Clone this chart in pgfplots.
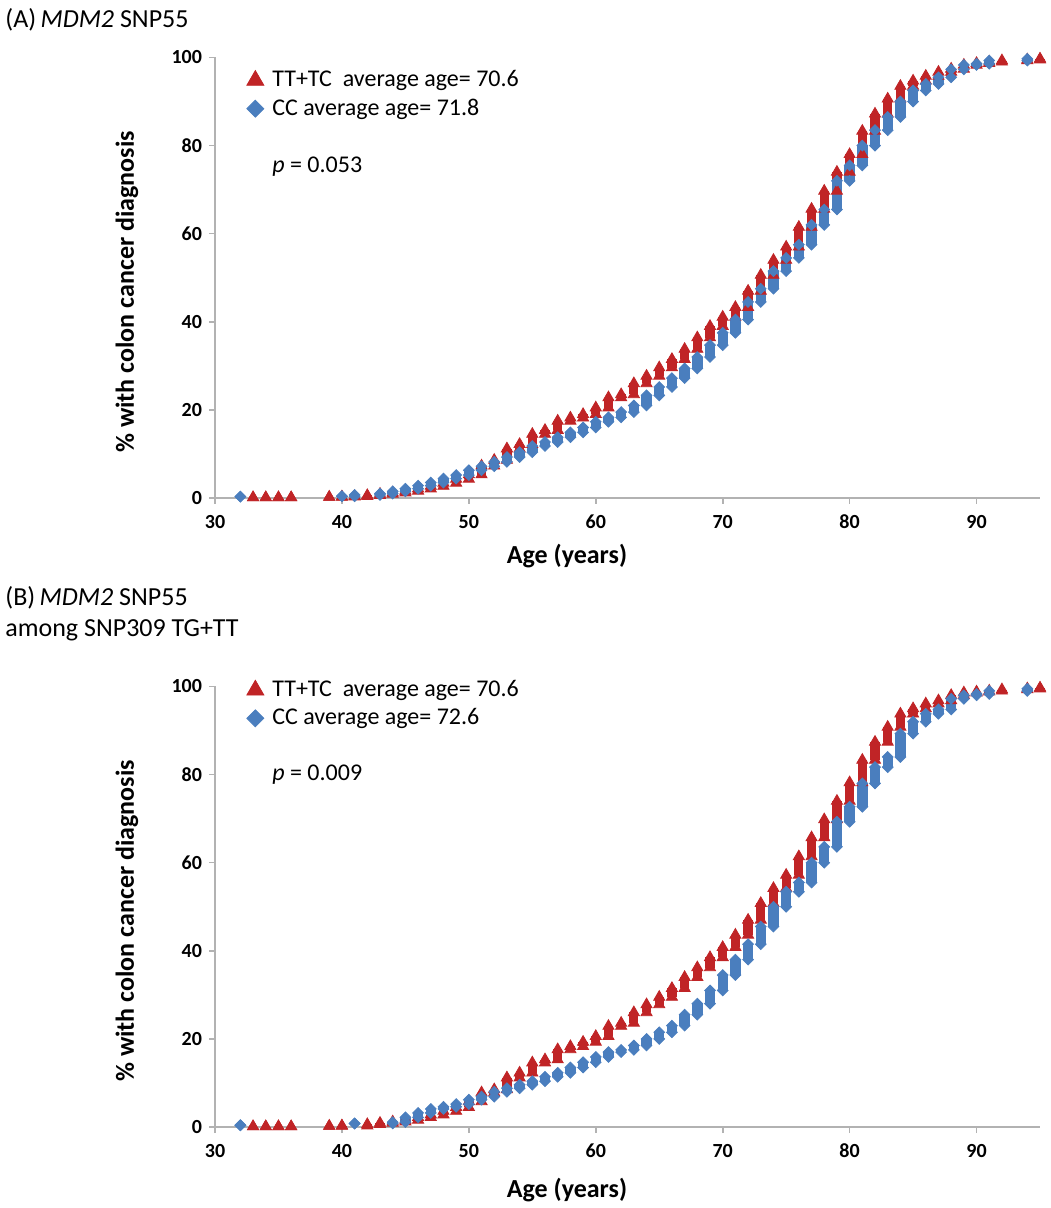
\documentclass[border=0pt]{standalone}
\usepackage{fontspec}
\setmainfont{Carlito}
\usepackage{pgfplots}
\usepackage{pgfplotstable}
\pgfplotsset{compat=1.18}

\definecolor{ttred}{RGB}{192,36,38}
\definecolor{ccblue}{RGB}{74,126,190}
\definecolor{axgray}{RGB}{178,178,178}

% cumulative % per age: each column runs from lo to hi
\pgfplotstableread{
age lo hi
33 0.1 0.1
34 0.1 0.1
35 0.1 0.1
36 0.1 0.1
39 0.2 0.2
40 0.2 0.3
41 0.3 0.4
42 0.4 0.6
43 0.6 0.9
44 0.9 1.2
45 1.2 1.6
46 1.6 2.1
47 2.1 2.7
48 2.7 3.4
49 3.4 4.3
50 4.3 5.3
51 5.3 7.3
52 7.3 8.6
53 8.6 11.2
54 11.2 12.2
55 12.2 14.5
56 14.5 15.4
57 15.4 17.5
58 17.5 18.2
59 18.2 19.0
60 19.0 20.5
61 20.5 22.8
62 22.8 23.5
63 23.5 26.0
64 26.0 27.7
65 27.7 29.6
66 29.6 31.5
67 31.5 33.8
68 33.8 36.4
69 36.4 39.0
70 39.0 41.1
71 41.1 43.3
72 43.3 47.0
73 47.0 50.6
74 50.6 54.0
75 54.0 57.0
76 57.0 61.5
77 61.5 65.6
78 65.6 69.7
79 69.7 74.0
80 74.0 78.0
81 78.0 83.3
82 83.3 87.2
83 87.2 90.6
84 90.6 93.5
85 93.5 94.7
86 94.7 95.8
87 95.8 96.7
88 96.7 97.4
89 97.4 98.3
90 98.3 98.7
91 98.7 99.0
92 99.0 99.3
94 99.3 99.5
95 99.5 99.7
}\redA

\pgfplotstableread{
age lo hi
32 0.3 0.3
40 0.4 0.4
41 0.4 0.7
43 0.7 1.0
44 1.0 1.5
45 1.5 2.1
46 2.1 2.8
47 2.8 3.5
48 3.5 4.4
49 4.4 5.2
50 5.2 6.3
51 6.3 7.2
52 7.2 8.2
53 8.2 9.3
54 9.3 10.4
55 10.4 11.8
56 11.8 12.7
57 12.7 13.8
58 13.8 14.9
59 14.9 16.0
60 16.0 17.3
61 17.3 18.3
62 18.3 19.5
63 19.5 21.0
64 21.0 23.3
65 23.3 25.2
66 25.2 27.2
67 27.2 29.4
68 29.4 32.0
69 32.0 34.7
70 34.7 37.5
71 37.5 40.5
72 40.5 44.5
73 44.5 47.5
74 47.5 51.5
75 51.5 54.5
76 54.5 57.5
77 57.5 62.0
78 62.0 65.5
79 65.5 72.0
80 72.0 75.5
81 75.5 80.0
82 80.0 83.5
83 83.5 86.5
84 86.5 90.0
85 90.0 92.5
86 92.5 94.0
87 94.0 95.5
88 95.5 97.3
89 97.3 98.3
90 98.3 98.6
91 98.6 99.3
94 99.3 99.7
}\blueA

\pgfplotstableread{
age lo hi
33 0.1 0.1
34 0.1 0.1
35 0.1 0.1
36 0.1 0.1
39 0.2 0.2
40 0.2 0.3
42 0.3 0.6
43 0.6 0.9
44 0.9 1.2
45 1.2 1.6
46 1.6 2.2
47 2.2 2.8
48 2.8 3.6
49 3.6 4.5
50 4.5 5.8
51 5.8 7.8
52 7.8 8.5
53 8.5 11.2
54 11.2 12.3
55 12.3 14.6
56 14.6 15.3
57 15.3 17.6
58 17.6 18.3
59 18.3 19.3
60 19.3 20.6
61 20.6 22.9
62 22.9 23.6
63 23.6 26.0
64 26.0 27.8
65 27.8 29.5
66 29.5 31.5
67 31.5 34.0
68 34.0 36.2
69 36.2 38.5
70 38.5 40.8
71 40.8 43.6
72 43.6 47.0
73 47.0 50.8
74 50.8 54.2
75 54.2 57.2
76 57.2 61.4
77 61.4 65.7
78 65.7 69.8
79 69.8 74.0
80 74.0 78.2
81 78.2 83.3
82 83.3 87.4
83 87.4 90.8
84 90.8 93.8
85 93.8 95.0
86 95.0 96.1
87 96.1 96.8
88 96.8 98.0
89 98.0 98.6
90 98.6 98.8
91 98.8 99.0
92 99.0 99.3
94 99.3 99.5
95 99.5 99.7
}\redB

\pgfplotstableread{
age lo hi
32 0.4 0.4
41 0.8 0.8
44 0.8 1.1
45 1.1 2.2
46 2.2 3.2
47 3.2 4.1
48 4.1 4.6
49 4.6 5.2
50 5.2 6.2
51 6.2 6.9
52 6.9 8.0
53 8.0 8.8
54 8.8 9.6
55 9.6 10.4
56 10.4 11.4
57 11.4 12.3
58 12.3 13.5
59 13.5 14.7
60 14.7 15.9
61 15.9 17.0
62 17.0 17.5
63 17.5 18.5
64 18.5 20.0
65 20.0 21.5
66 21.5 23.0
67 23.0 25.5
68 25.5 28.0
69 28.0 31.0
70 31.0 34.5
71 34.5 38.0
72 38.0 41.5
73 41.5 45.5
74 45.5 50.0
75 50.0 53.4
76 53.4 55.5
77 55.5 60.0
78 60.0 63.6
79 63.6 69.3
80 69.3 72.7
81 72.7 78.0
82 78.0 81.7
83 81.7 84.0
84 84.0 89.3
85 89.3 92.0
86 92.0 93.8
87 93.8 94.8
88 94.8 97.2
89 97.2 98.0
90 98.0 98.3
91 98.3 99.0
94 99.0 99.5
}\blueB

\pgfplotsset{
  cdf/.style={
    scale only axis, width=412.5pt, height=220.25pt,
    xmin=30, xmax=95, ymin=0, ymax=100,
    xtick={30,40,...,90}, ytick={0,20,...,100},
    axis lines*=left,
    axis line style={axgray, line width=1pt},
    tick style={axgray, line width=0.8pt},
    tick align=outside, major tick length=3pt,
    ticklabel style={font=\bfseries\fontsize{10}{12}\selectfont},
    xticklabel style={yshift=-2pt},
    /pgf/number format/assume math mode=true,
    clip=false,
    legend image code/.code={%
      \path[draw=none, fill=none] (-4.3pt,0pt) -- (8.5pt,0pt);
      \draw[##1] plot coordinates {(0pt,0pt)};},
    legend cell align=left,
    legend style={draw=none, fill=none, inner sep=0pt, row sep=4.5pt,
      font=\fontsize{12}{14}\selectfont,
      nodes={inner sep=0pt}},
  },
  colbars/.style 2 args={
    error bars/y dir=minus, error bars/y explicit,
    error bars/error mark=none,
    error bars/error bar style={line width=#1, #2}},
  redcol/.style={only marks, mark=triangle*, mark size=3.2pt, color=ttred,
    colbars={4.6pt}{ttred}},
  redlo/.style={only marks, mark=triangle*, mark size=3.2pt, color=ttred},
  bluecol/.style={only marks, mark=square*, mark size=1.9pt, color=ccblue,
    mark options={rotate=45}, colbars={5.2pt}{ccblue}},
  bluelo/.style={only marks, mark=square*, mark size=1.9pt, color=ccblue,
    mark options={rotate=45}},
}

\begin{document}
\begin{tikzpicture}
\useasboundingbox (0,0) rectangle (525pt,604pt);

% ---- panel A ----
\begin{axis}[cdf, at={(107.5pt,355pt)}, anchor=south west,
  legend style={at={(0.038,0.916)}, anchor=west}]
  \addplot[redcol, forget plot] table[x=age, y=hi, y error expr=\thisrow{hi}-\thisrow{lo}] {\redA};
  \addplot[redlo, forget plot] table[x=age, y=lo] {\redA};
  \addplot[bluecol, forget plot] table[x=age, y=hi, y error expr=\thisrow{hi}-\thisrow{lo}] {\blueA};
  \addplot[bluelo, forget plot] table[x=age, y=lo] {\blueA};
  \addlegendimage{only marks, mark=triangle*, mark size=4.9pt, ttred}
  \addlegendentry{TT+TC\ \ average age= 70.6}
  \addlegendimage{only marks, mark=square*, mark size=3pt, ccblue, mark options={rotate=45}}
  \addlegendentry{CC average age= 71.8}
  \node[anchor=west, inner sep=0pt, font=\fontsize{12}{14}\selectfont]
    at (rel axis cs:0.069,0.752) {\textit{p} = 0.053};
\end{axis}

% ---- panel B ----
\begin{axis}[cdf, at={(107.5pt,40.5pt)}, anchor=south west,
  legend style={at={(0.038,0.96)}, anchor=west}]
  \addplot[redcol, forget plot] table[x=age, y=hi, y error expr=\thisrow{hi}-\thisrow{lo}] {\redB};
  \addplot[redlo, forget plot] table[x=age, y=lo] {\redB};
  \addplot[bluecol, forget plot] table[x=age, y=hi, y error expr=\thisrow{hi}-\thisrow{lo}] {\blueB};
  \addplot[bluelo, forget plot] table[x=age, y=lo] {\blueB};
  \addlegendimage{only marks, mark=triangle*, mark size=4.9pt, ttred}
  \addlegendentry{TT+TC\ \ average age= 70.6}
  \addlegendimage{only marks, mark=square*, mark size=3pt, ccblue, mark options={rotate=45}}
  \addlegendentry{CC average age= 72.6}
  \node[anchor=west, inner sep=0pt, font=\fontsize{12}{14}\selectfont]
    at (rel axis cs:0.069,0.80) {\textit{p} = 0.009};
\end{axis}

% titles and axis titles
\node[anchor=west, inner sep=0pt, font=\fontsize{13}{15}\selectfont] at (2.5pt,594pt) {(A)\,\textit{MDM2} SNP55};
\node[anchor=west, inner sep=0pt, font=\fontsize{13}{15}\selectfont] at (2.5pt,305pt) {(B)\,\textit{MDM2} SNP55};
\node[anchor=west, inner sep=0pt, font=\fontsize{13}{15}\selectfont] at (2.5pt,289pt) {among SNP309 TG+TT};

\node[font=\bfseries\fontsize{13}{15}\selectfont] at (283.5pt,326pt) {Age (years)};
\node[font=\bfseries\fontsize{13}{15}\selectfont] at (283.5pt,9pt) {Age (years)};
\node[rotate=90, font=\bfseries\fontsize{13}{15}\selectfont] at (63.5pt,458pt) {\% with colon cancer diagnosis};
\node[rotate=90, font=\bfseries\fontsize{13}{15}\selectfont] at (63.5pt,143.5pt) {\% with colon cancer diagnosis};
\end{tikzpicture}
\end{document}
